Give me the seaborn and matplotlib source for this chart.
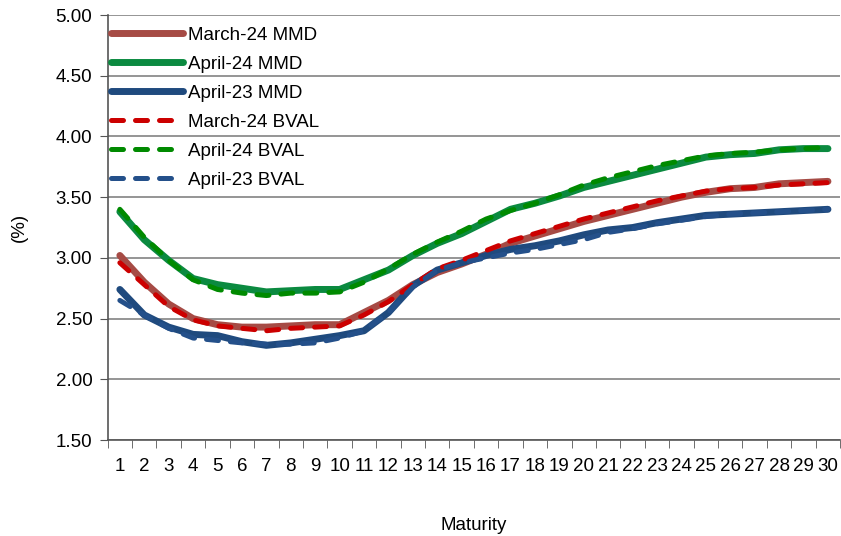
import numpy as np
import pandas as pd
import matplotlib
matplotlib.use('Agg')
import matplotlib.pyplot as plt
import seaborn as sns

maturity = list(range(1, 31))

march24_mmd = [3.02, 2.80, 2.62, 2.50, 2.45, 2.43, 2.43, 2.44, 2.45, 2.45,
               2.55, 2.65, 2.78, 2.88, 2.95, 3.03, 3.12, 3.18, 3.24, 3.30,
               3.35, 3.40, 3.45, 3.50, 3.54, 3.57, 3.58, 3.61, 3.62, 3.63]
april24_mmd = [3.38, 3.15, 2.98, 2.83, 2.78, 2.75, 2.72, 2.73, 2.74, 2.74,
               2.82, 2.90, 3.02, 3.12, 3.20, 3.30, 3.40, 3.45, 3.51, 3.58,
               3.63, 3.68, 3.73, 3.78, 3.83, 3.85, 3.86, 3.89, 3.90, 3.90]
april23_mmd = [2.74, 2.53, 2.43, 2.37, 2.36, 2.31, 2.28, 2.30, 2.33, 2.36,
               2.40, 2.55, 2.77, 2.90, 2.96, 3.02, 3.07, 3.10, 3.14, 3.19,
               3.23, 3.25, 3.29, 3.32, 3.35, 3.36, 3.37, 3.38, 3.39, 3.40]
march24_bval = [2.96, 2.78, 2.60, 2.49, 2.44, 2.42, 2.40, 2.42, 2.43, 2.44,
                2.53, 2.64, 2.78, 2.91, 2.98, 3.06, 3.14, 3.20, 3.26, 3.32,
                3.37, 3.42, 3.47, 3.51, 3.55, 3.57, 3.58, 3.60, 3.61, 3.62]
april24_bval = [3.40, 3.17, 2.98, 2.82, 2.74, 2.71, 2.69, 2.71, 2.71, 2.72,
                2.80, 2.91, 3.03, 3.13, 3.22, 3.32, 3.39, 3.45, 3.52, 3.60,
                3.66, 3.71, 3.76, 3.80, 3.84, 3.86, 3.87, 3.89, 3.90, 3.91]
april23_bval = [2.65, 2.53, 2.42, 2.34, 2.32, 2.30, 2.29, 2.29, 2.30, 2.34,
                2.40, 2.55, 2.76, 2.90, 2.96, 3.00, 3.04, 3.07, 3.11, 3.15,
                3.21, 3.24, 3.28, 3.31, 3.34, 3.36, 3.37, 3.38, 3.39, 3.40]

series = [
    ('March-24 MMD', march24_mmd, '#A64B45', '-'),
    ('April-24 MMD', april24_mmd, '#0B8A40', '-'),
    ('April-23 MMD', april23_mmd, '#1F4A7E', '-'),
    ('March-24 BVAL', march24_bval, '#CC0000', '--'),
    ('April-24 BVAL', april24_bval, '#008A00', '--'),
    ('April-23 BVAL', april23_bval, '#24508A', '--'),
]

sns.set_style('white')
plt.rcParams['font.family'] = ['Liberation Sans', 'DejaVu Sans']
plt.rcParams['text.color'] = 'black'
plt.rcParams['xtick.color'] = 'black'
plt.rcParams['ytick.color'] = 'black'
plt.rcParams['axes.labelcolor'] = 'black'

fig = plt.figure(figsize=(8.41, 5.36), dpi=100)
ax = fig.add_axes([0.128, 0.179, 0.871, 0.793])

for name, vals, col, ls in series:
    df = pd.DataFrame({'Maturity': maturity, 'value': vals})
    if ls == '-':
        sns.lineplot(data=df, x='Maturity', y='value', ax=ax, color=col,
                     linewidth=5.0, label=name, solid_capstyle='round',
                     solid_joinstyle='round')
    else:
        sns.lineplot(data=df, x='Maturity', y='value', ax=ax, color=col,
                     linewidth=3.6, label=name, dash_capstyle='round')
        ax.lines[-1].set_linestyle((0, (2.4, 2.4)))

ax.set_xlim(0.5, 30.5)
ax.set_ylim(1.5, 5.0)
yt = np.arange(1.5, 5.01, 0.5)
ax.set_yticks(yt)
ax.set_yticklabels([f'{v:.2f}' for v in yt], fontsize=13.5)
ax.yaxis.grid(True, color='#8c8c8c', linewidth=1.3)
ax.set_axisbelow(True)

# category style ticks: labels at centres, tick marks at boundaries
ax.set_xticks(maturity)
ax.set_xticklabels([str(m) for m in maturity], fontsize=13.5)
ax.tick_params(axis='x', length=0, pad=13)
ax.set_xticks(np.arange(0.5, 31, 1), minor=True)
ax.tick_params(axis='x', which='minor', length=6, color='#555555', direction='out', bottom=True)
ax.tick_params(axis='y', length=6, color='#555555', direction='out', left=True, pad=5)

for s in ['top', 'right']:
    ax.spines[s].set_visible(False)
for s in ['left', 'bottom']:
    ax.spines[s].set_color('#555555')
    ax.spines[s].set_linewidth(1.2)

ax.set_xlabel('Maturity', fontsize=13.5, labelpad=30)
ax.set_ylabel('(%)', fontsize=13.5, labelpad=20)

leg = ax.legend(loc='upper left', frameon=False, fontsize=13.5, handlelength=3.8,
                handletextpad=0.3, labelspacing=0.63, borderaxespad=0.0,
                borderpad=0.2, bbox_to_anchor=(0.0, 0.981))

fig.savefig('out.png', dpi=100)
